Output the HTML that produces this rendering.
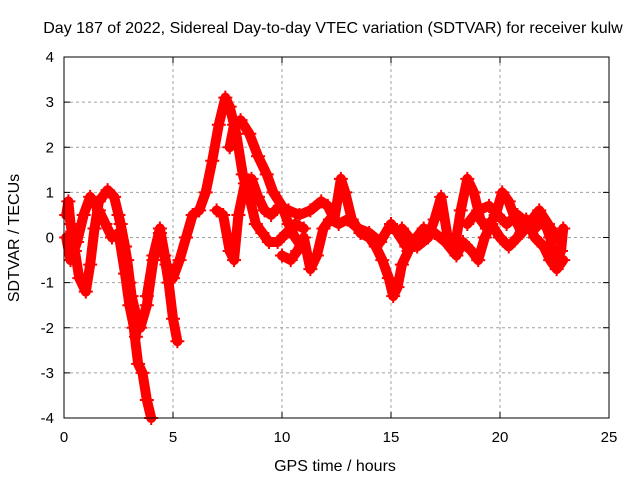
<!DOCTYPE html>
<html><head><meta charset="utf-8"><style>
html,body{margin:0;padding:0;background:#fff}
svg{display:block;font-family:"Liberation Sans",sans-serif}
</style></head><body>
<svg id="chart" width="640" height="480">
<text x="333" y="33" font-size="16" text-anchor="middle">Day 187 of 2022, Sidereal Day-to-day VTEC variation (SDTVAR) for receiver kulw</text>
<text x="335" y="471" font-size="16" text-anchor="middle">GPS time / hours</text>
<text x="19" y="238" font-size="16" text-anchor="middle" transform="rotate(-90 19 238)">SDTVAR / TECUs</text>
<g id="grid"></g><g id="ticks"></g><g id="marks"></g>
<rect x="64" y="57" width="545" height="361" fill="none" stroke="#000" stroke-width="1"/>
</svg>
<script>
const xTicks=[0,5,10,15,20,25];
const yTicks=[-4,-3,-2,-1,0,1,2,3,4];
const s1=[[0.1,0.5],[0.2,0.8],[0.3,0.3],[0.5,-0.3],[0.7,-0.9],[1.0,-1.2],[1.2,-0.6],[1.4,0.2],[1.6,0.8],[2.0,1.05],[2.3,0.9],[2.6,0.3],[2.9,-0.5],[3.1,-1.3],[3.3,-1.7],[3.5,-2.0],[3.8,-1.5],[4.1,-0.5],[4.4,0.1],[4.6,-0.4],[4.8,-1.0],[5.0,-1.8],[5.2,-2.3]];
const s2=[[2.5,0.5],[2.8,-0.2],[3.0,-1.0],[3.2,-2.0],[3.4,-2.8],[3.6,-3.0],[3.8,-3.6],[4.0,-4.0]];
const s3=[[0.1,0],[0.3,-0.5],[0.6,-0.1],[0.9,0.5],[1.2,0.9],[1.6,0.6],[1.9,0.3],[2.2,0.0],[2.5,0.1],[2.8,-0.8],[3.0,-1.5],[3.3,-2.2]];
const s4=[[3.8,-1.3],[4.1,-0.4],[4.4,0.2],[4.7,-0.6],[5.0,-0.9],[5.3,-0.5],[5.6,0.0],[5.9,0.5],[6.2,0.6],[6.5,1.0],[6.8,1.7],[7.1,2.5],[7.4,3.1],[7.6,2.9],[7.9,2.3],[8.2,1.4],[8.5,0.9],[8.8,0.3],[9.1,0.1],[9.4,-0.1],[9.8,-0.1],[10.2,0.1],[10.6,0.3],[11.0,0.2]];
const s5=[[7.6,2.0],[7.8,2.5],[8.1,2.6],[8.5,2.3],[8.9,1.8],[9.3,1.4],[9.6,1.0],[10.0,0.7],[10.3,0.3],[10.6,0.0],[10.9,-0.2]];
const s6=[[7.0,0.6],[7.3,0.5],[7.6,-0.3],[7.8,-0.5],[8.0,0.5],[8.3,1.2],[8.6,1.3],[8.9,0.9],[9.2,0.6],[9.5,0.5],[9.9,0.7],[10.3,0.6],[10.8,0.5],[11.3,0.6],[11.8,0.8],[12.1,0.7],[12.4,0.4],[12.7,1.3],[12.9,1.0],[13.2,0.4],[13.6,0.1],[14.0,0.0],[14.3,-0.2],[14.6,-0.5],[14.9,-0.9],[15.1,-1.3],[15.3,-1.1],[15.5,-0.6],[15.8,-0.3]];
const s7=[[10.0,-0.4],[10.4,-0.5],[10.7,-0.3],[11.0,0.0],[11.3,-0.7],[11.6,-0.4],[11.9,0.2],[12.2,0.4],[12.6,0.3],[13.0,0.4],[13.5,0.2],[14.0,0.1],[14.5,-0.1],[15.0,0.3],[15.3,0.1],[15.7,-0.2],[16.2,-0.2],[16.7,0.0],[17.0,0.4],[17.3,0.9],[17.6,0.0],[17.9,-0.3],[18.2,0.6],[18.5,1.3],[18.8,1.0],[19.1,0.4],[19.4,0.2],[19.8,0.5],[20.1,1.0],[20.4,0.8],[20.7,0.4],[21.0,0.1],[21.3,0.3],[21.6,0.2],[22.0,0.4],[22.3,0.0],[22.5,-0.6],[22.8,-0.3],[22.9,0.2]];
const s8=[[15.5,0.2],[16.0,-0.1],[16.5,0.2],[17.0,0.1],[17.5,-0.1],[18.0,-0.4],[18.3,-0.1],[18.7,-0.3],[19.0,-0.5],[19.3,0.0],[19.6,0.3],[20.0,0.0],[20.4,-0.2],[20.8,0.0],[21.2,0.4],[21.6,0.0],[22.0,-0.2],[22.3,-0.5],[22.6,-0.7],[22.9,-0.5]];
const s9=[[18.5,0.3],[19.0,0.6],[19.5,0.7],[19.9,0.5],[20.3,0.3],[20.8,0.5],[21.3,0.3],[21.8,0.6],[22.2,0.3],[22.6,0.0]];
const series=[s1,s2,s3,s4,s5,s6,s7,s8,s9];
const X0=64,X1=609,Y0=418,Y1=57;
function xs(v){return X0+(v-0)/(25-0)*(X1-X0);}
function ys(v){return Y0-(v+4)/8*(Y0-Y1);}
const NS="http://www.w3.org/2000/svg";
const grid=document.getElementById('grid'),ticks=document.getElementById('ticks'),marks=document.getElementById('marks');
function mk(t,a,p){const e=document.createElementNS(NS,t);for(const k in a)e.setAttribute(k,a[k]);p.appendChild(e);return e;}
xTicks.forEach(t=>{const x=xs(t);
 if(t>0&&t<25){const g=mk('line',{x1:x,x2:x,y1:Y1,y2:Y0,stroke:'#a0a0a0','stroke-dasharray':'3,3'},grid);
 
 }
 const tk=mk('path',{d:`M${x},${Y0}v-6M${x},${Y1}v6`,stroke:'#000'},ticks);
 
 
 const l=mk('text',{x:x,y:Y0+24,'font-size':15,'text-anchor':'middle'},ticks);l.textContent=t;
 
 });
yTicks.forEach(t=>{const y=ys(t);
 if(t>-4&&t<4){const g=mk('line',{x1:X0,x2:X1,y1:y,y2:y,stroke:'#a0a0a0','stroke-dasharray':'3,3'},grid);
 
 }
 const tk=mk('path',{d:`M${X0},${y}h6M${X1},${y}h-6`,stroke:'#000'},ticks);
 
 
 const l=mk('text',{x:X0-10,y:y+5,'font-size':15,'text-anchor':'end'},ticks);l.textContent=t;
 
 });
series.forEach((s,i)=>{
 const pl=mk('polyline',{points:s.map(p=>xs(p[0])+','+ys(p[1])).join(' '),fill:'none',stroke:'#ff0000','stroke-width':10,'stroke-linejoin':'round','stroke-linecap':'round'},marks);
 
 
 s.forEach(p=>{const x=xs(p[0]),y=ys(p[1]);
  const m=mk('path',{d:`M${x-7},${y}h14M${x},${y-7}v14`,stroke:'#ff0000','stroke-width':2},marks);
  
  });
});
</script>
</body></html>
